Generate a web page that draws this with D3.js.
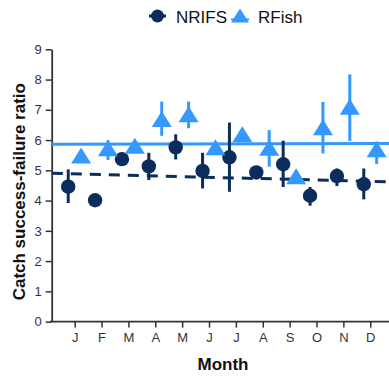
<!DOCTYPE html>
<html>
<head>
<meta charset="utf-8">
<script src="https://cdn.jsdelivr.net/npm/d3@7"></script>
<style>
  html, body { margin: 0; padding: 0; background: #fff; }
  svg { display: block; font-family: "Liberation Sans", Arial, sans-serif; }
</style>
</head>
<body>
<svg id="chart" width="389" height="376"></svg>
<script>
// Monthly catch success-failure ratio, two data sources
const months = ["J", "F", "M", "A", "M", "J", "J", "A", "S", "O", "N", "D"];
const yTicks = [0, 1, 2, 3, 4, 5, 6, 7, 8, 9];

const nrifsMean = [4.46, 4.01, 5.37, 5.13, 5.76, 4.98, 5.43, 4.93, 5.20, 4.16, 4.81, 4.54];
const nrifsLow  = [3.92, 3.95, 5.25, 4.68, 5.36, 4.40, 4.29, 4.83, 4.45, 3.83, 4.48, 4.04];
const nrifsHigh = [5.03, 4.07, 5.49, 5.58, 6.19, 5.58, 6.58, 5.05, 5.98, 4.45, 5.06, 5.06];

const rfishMean = [5.49, 5.73, 5.81, 6.70, 6.85, 5.76, 6.19, 5.75, 4.80, 6.42, 7.10, 5.70];
const rfishLow  = [5.35, 5.34, 5.65, 6.14, 6.39, 5.62, 6.00, 5.12, 4.65, 5.56, 5.97, 5.21];
const rfishHigh = [5.63, 6.00, 5.97, 7.27, 7.27, 5.90, 6.38, 6.33, 4.95, 7.26, 8.17, 5.95];

// Linear trend lines: value at the left and right ends of the month axis
const trendMonths = [0.15, 12.7];
const nrifsTrend = [4.90, 4.62];
const rfishTrend = [5.86, 5.89];

const NAVY = "#0b2d5b";
const BLUE = "#3399ff";
const AXIS = "#333333";

const svg = d3.select("#chart");

const x = d3.scaleLinear().domain([0, 13]).range([47.8, 397.1]);
const y = d3.scaleLinear().domain([0, 9]).range([321.6, 49.3]);
const shift = 0.24; // horizontal dodge between the two series, in months

// Triangle centred on its bounding box
const boxTriangle = {
  draw(ctx, size) {
    const w = Math.sqrt(size * 2 / 0.8);
    const h = w * 0.8;
    ctx.moveTo(0, -h / 2);
    ctx.lineTo(w / 2, h / 2);
    ctx.lineTo(-w / 2, h / 2);
    ctx.closePath();
  }
};

// Axes
const yAxis = svg.append("g")
  .attr("transform", `translate(${x(0.145)},0)`)
  .call(d3.axisLeft(y).tickValues(yTicks).tickSize(6).tickSizeOuter(0).tickPadding(4));
const xAxis = svg.append("g")
  .attr("transform", `translate(0,${y(0)})`)
  .call(d3.axisBottom(x).tickValues(d3.range(1, 13)).tickFormat(d => months[d - 1])
    .tickSize(6).tickSizeOuter(0).tickPadding(5));
xAxis.select(".domain").attr("d", `M${x(0.08)},0H${x(13)}`);
[yAxis, xAxis].forEach(g => {
  g.select(".domain").attr("stroke", AXIS).attr("stroke-width", 1.8);
  g.selectAll(".tick line").attr("stroke", AXIS).attr("stroke-width", 1.5);
  g.selectAll(".tick text").attr("fill", AXIS).attr("font-size", 13)
    .attr("font-family", "Liberation Sans, Arial, sans-serif");
});

// Axis titles
svg.append("text")
  .attr("transform", `translate(25,191.7) rotate(-90)`)
  .attr("text-anchor", "middle")
  .attr("font-size", 17).attr("font-weight", "bold").attr("fill", "#111")
  .text("Catch success-failure ratio");
svg.append("text")
  .attr("x", 223).attr("y", 370)
  .attr("text-anchor", "middle")
  .attr("font-size", 17).attr("font-weight", "bold").attr("fill", "#111")
  .text("Month");

// Trend lines
const trendLine = d3.line().x(d => x(d[0])).y(d => y(d[1]));
svg.append("path")
  .attr("d", trendLine(d3.zip(trendMonths, rfishTrend)))
  .attr("stroke", BLUE).attr("stroke-width", 3).attr("fill", "none");
svg.append("path")
  .attr("d", trendLine(d3.zip(trendMonths, nrifsTrend)))
  .attr("stroke", NAVY).attr("stroke-width", 3).attr("fill", "none")
  .attr("stroke-dasharray", "11,8");

function drawSeries(mean, low, high, dx, color, symbolType, size) {
  const rows = mean.map((m, i) => ({ m: i + 1 + dx, v: m, lo: low[i], hi: high[i] }));
  const g = svg.append("g");
  g.selectAll("line").data(rows).join("line")
    .attr("x1", d => x(d.m)).attr("x2", d => x(d.m))
    .attr("y1", d => y(d.lo)).attr("y2", d => y(d.hi))
    .attr("stroke", color).attr("stroke-width", 3);
  g.selectAll("path").data(rows).join("path")
    .attr("transform", d => `translate(${x(d.m)},${y(d.v)})`)
    .attr("d", d3.symbol().type(symbolType).size(size))
    .attr("fill", color);
}

drawSeries(nrifsMean, nrifsLow, nrifsHigh, -shift, NAVY, d3.symbolCircle, Math.PI * 7.2 * 7.2);
drawSeries(rfishMean, rfishLow, rfishHigh, shift, BLUE, boxTriangle, 160);

// Legend
const legend = svg.append("g");
legend.append("line").attr("x1", 149).attr("x2", 166).attr("y1", 16).attr("y2", 16)
  .attr("stroke", NAVY).attr("stroke-width", 3);
legend.append("path").attr("transform", "translate(157.5,16)")
  .attr("d", d3.symbol().type(d3.symbolCircle).size(Math.PI * 6.5 * 6.5)).attr("fill", NAVY);
legend.append("text").attr("x", 176).attr("y", 23).attr("font-size", 17).attr("fill", "#111").text("NRIFS");
legend.append("line").attr("x1", 231).attr("x2", 249).attr("y1", 19.5).attr("y2", 19.5)
  .attr("stroke", BLUE).attr("stroke-width", 2);
legend.append("path").attr("transform", "translate(240,15.5)")
  .attr("d", d3.symbol().type(boxTriangle).size(125)).attr("fill", BLUE);
legend.append("text").attr("x", 258).attr("y", 23).attr("font-size", 17).attr("fill", "#111").text("RFish");
</script>
</body>
</html>
